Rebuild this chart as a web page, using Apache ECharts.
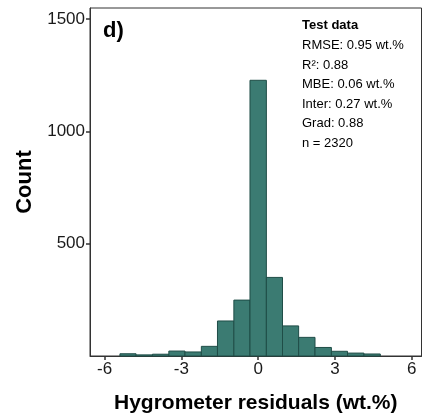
<!DOCTYPE html>
<html>
<head>
<meta charset="utf-8">
<script src="https://cdn.jsdelivr.net/npm/echarts@6/dist/echarts.min.js"></script>
<style>
html,body{margin:0;padding:0;background:#fff;}
#chart{width:428px;height:419px;}
</style>
</head>
<body>
<div id="chart"></div>
<script>
// Histogram bin edges (wt.%) and counts per bin
const binEdges = [-5.40, -4.77, -4.13, -3.49, -2.86, -2.22, -1.59, -0.95, -0.32, 0.32, 0.95, 1.58, 2.22, 2.86, 3.49, 4.13, 4.77];
const counts = [10, 5, 8, 22, 18, 43, 156, 249, 1228, 350, 134, 83, 38, 21, 13, 9];
const xTicks = [-6, -3, 0, 3, 6];
const yTicks = [500, 1000, 1500];
const statsTitle = 'Test data';
const statsLines = ['RMSE: 0.95 wt.%', 'R\u00B2: 0.88', 'MBE: 0.06 wt.%', 'Inter: 0.27 wt.%', 'Grad: 0.88', 'n = 2320'];
const panelTag = 'd)';

const barData = counts.map((c, i) => [binEdges[i], binEdges[i + 1], c]);

const font = '"Liberation Sans", Arial, Helvetica, sans-serif';
const chart = echarts.init(document.getElementById('chart'), null, {renderer: 'canvas'});

const graphics = [
  {type: 'text', left: 103, top: 20, style: {text: panelTag, font: 'bold 22px ' + font, fill: '#000'}},
  {type: 'text', left: 302, top: 19, style: {text: statsTitle, font: 'bold 13px ' + font, fill: '#000'}}
];
statsLines.forEach((t, i) => {
  graphics.push({type: 'text', left: 302, top: 39 + i * 19.5, style: {text: t, font: '13px ' + font, fill: '#000'}});
});

chart.setOption({
  animation: false,
  grid: {left: 90, top: 8, right: 6.5, bottom: 62, show: true, borderColor: '#333', borderWidth: 1, backgroundColor: 'transparent'},
  xAxis: {
    type: 'value', min: -6.57, max: 6.38,
    name: 'Hygrometer residuals (wt.%)', nameLocation: 'middle', nameGap: 37,
    nameTextStyle: {fontFamily: font, fontWeight: 'bold', fontSize: 21, color: '#000'},
    axisLine: {show: true, onZero: false, lineStyle: {color: '#333', width: 1}},
    axisTick: {show: true, length: 4, customValues: xTicks, lineStyle: {color: '#333', width: 1.5}},
    axisLabel: {customValues: xTicks, fontFamily: font, fontSize: 17, color: '#1a1a1a', margin: 5},
    splitLine: {show: false}
  },
  yAxis: {
    type: 'value', min: 0, max: 1550,
    name: 'Count', nameLocation: 'middle', nameGap: 53, nameRotate: 90,
    nameTextStyle: {fontFamily: font, fontWeight: 'bold', fontSize: 22, color: '#000'},
    axisLine: {show: true, onZero: false, lineStyle: {color: '#333', width: 1}},
    axisTick: {show: true, length: 4, customValues: yTicks, lineStyle: {color: '#333', width: 1.5}},
    axisLabel: {customValues: yTicks, formatter: v => String(v), fontFamily: font, fontSize: 17, color: '#1a1a1a', margin: 5},
    splitLine: {show: false}
  },
  series: [{
    type: 'custom',
    data: barData,
    encode: {x: [0, 1], y: 2},
    renderItem: function (params, api) {
      const p0 = api.coord([api.value(0), api.value(2)]);
      const p1 = api.coord([api.value(1), 0]);
      return {
        type: 'rect',
        shape: {x: p0[0], y: p0[1], width: p1[0] - p0[0], height: p1[1] - p0[1]},
        style: {fill: '#3b7b72', stroke: '#1f4d47', lineWidth: 1}
      };
    }
  }],
  graphic: graphics
});
</script>
</body>
</html>
